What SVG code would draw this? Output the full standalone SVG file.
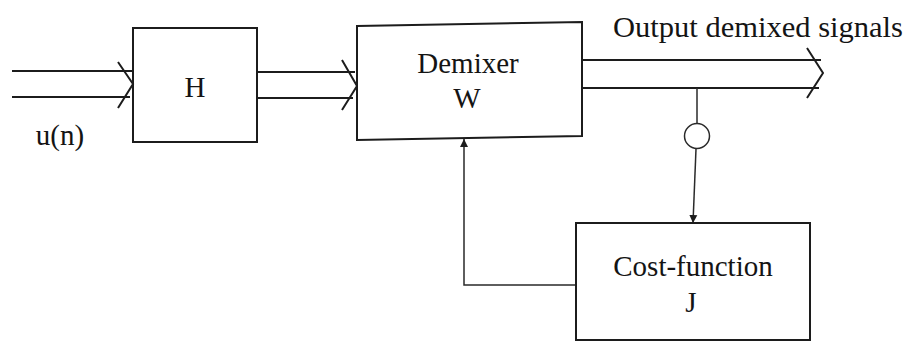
<svg xmlns="http://www.w3.org/2000/svg" width="908" height="341" viewBox="0 0 908 341">
  <defs>
    <style>
      .box { fill: none; stroke: #1c1c1c; stroke-width: 2; }
      .wire { fill: none; stroke: #1c1c1c; stroke-width: 2; }
      .thin { fill: none; stroke: #2a2a2a; stroke-width: 1.5; }
      .lbl { font-family: "Liberation Serif", "Times New Roman", serif; font-size: 29px; fill: #141414; }
    </style>
    <marker id="tri" viewBox="0 0 10 10" refX="10" refY="5" markerWidth="8" markerHeight="14" markerUnits="userSpaceOnUse" orient="auto">
      <path d="M0,0 L10,5 L0,10 Z" fill="#1c1c1c"/>
    </marker>
  </defs>
  <rect width="908" height="341" fill="#ffffff"/>

  <g id="connectors">
    <!-- input bus u(n) into H -->
    <path class="wire" d="M12,71 H132 M12,97 H130"/>
    <path class="wire" d="M118,62 L133,84 L118,108"/>
    <!-- bus from H to demixer -->
    <path class="wire" d="M257,72 H355 M257,98 H353"/>
    <path class="wire" d="M342,60 L357,86 L342,110"/>
    <!-- output bus -->
    <path class="wire" d="M582,60 H821 M582,88 H819"/>
    <path class="wire" d="M807,48 L823,73 L807,98"/>
    <!-- tap to cost function -->
    <path class="thin" d="M697,88 V124"/>
    <path class="thin" d="M696,149 L693,223" marker-end="url(#tri)"/>
    <!-- feedback from cost function to demixer -->
    <path class="thin" d="M576,285 H464 V139" marker-end="url(#tri)"/>
  </g>

  <g id="tap">
    <circle cx="697" cy="136" r="12.5" class="thin"/>
  </g>

  <g id="input-label">
    <text class="lbl" x="60" y="145" text-anchor="middle">u(n)</text>
  </g>

  <g id="h">
    <rect class="box" x="133" y="28" width="124" height="114"/>
    <text class="lbl" x="195" y="97" text-anchor="middle">H</text>
  </g>

  <g id="demixer">
    <polygon class="box" points="357,26 582,22 582,136 357,140"/>
    <text class="lbl" x="468" y="73" text-anchor="middle">Demixer</text>
    <text class="lbl" x="467" y="108" text-anchor="middle">W</text>
  </g>

  <g id="output-label">
    <text class="lbl" x="613" y="37" textLength="290" lengthAdjust="spacingAndGlyphs">Output demixed signals</text>
  </g>

  <g id="cost">
    <rect class="box" x="576" y="223" width="234" height="117"/>
    <text class="lbl" x="693" y="276" text-anchor="middle">Cost-function</text>
    <text class="lbl" x="691" y="312" text-anchor="middle">J</text>
  </g>
</svg>
